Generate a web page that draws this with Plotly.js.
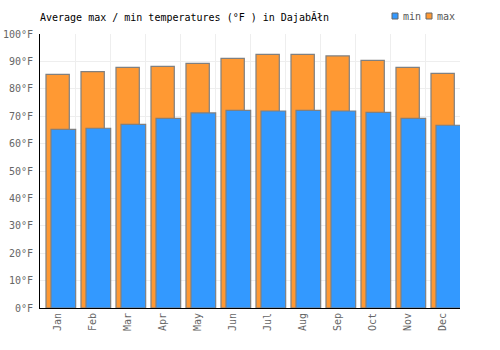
<!DOCTYPE html>
<html>
<head>
<meta charset="utf-8">
<script src="https://cdn.plot.ly/plotly-3.0.1.min.js"></script>
<style>html,body{margin:0;padding:0;background:#fff;}#chart{width:500px;height:350px;}</style>
</head>
<body>
<div id="chart"></div>
<script>
const months = ["Jan","Feb","Mar","Apr","May","Jun","Jul","Aug","Sep","Oct","Nov","Dec"];
const maxTemps = [85.3, 86.3, 87.8, 88.2, 89.3, 91.1, 92.6, 92.6, 92.0, 90.4, 87.8, 85.6];
const minTemps = [65.2, 65.6, 67.0, 69.2, 71.2, 72.1, 71.9, 72.1, 71.9, 71.4, 69.2, 66.7];
const seriesNames = ["min", "max"];
const seriesColors = ["#3399ff", "#ff9933"];
const titleText = "Average max / min temperatures (°F ) in DajabĂłn";

const font = "DejaVu Sans Mono, monospace";
const W = 500, H = 350;

const traces = [
  {
    type: "bar", name: seriesNames[1], x: months, y: maxTemps,
    marker: {color: seriesColors[1], line: {color: "#808080", width: 1.2}},
    width: 0.666, offset: -0.329,
    hoverinfo: "skip", showlegend: false
  },
  {
    type: "bar", name: seriesNames[0], x: months, y: minTemps,
    marker: {color: seriesColors[0], line: {color: "#808080", width: 1.2}},
    width: 0.705, offset: -0.186,
    hoverinfo: "skip", showlegend: false
  }
];

// custom compact legend (square swatch + name), built from series names/colours
const legendX = [392, 426];
const shapes = [], annotations = [];
seriesNames.forEach((n, i) => {
  const x0 = legendX[i];
  shapes.push({type: "rect", xref: "paper", yref: "paper",
    x0: (x0 - 40) / 420, x1: (x0 + 6 - 40) / 420,
    y0: (308 - 19) / 274, y1: (308 - 13) / 274,
    fillcolor: seriesColors[i], line: {color: "#666", width: 1}});
  annotations.push({xref: "paper", yref: "paper", x: (x0 + 8.5 - 40) / 420, y: (308 - 16.5) / 274,
    xanchor: "left", yanchor: "middle", showarrow: false, text: n,
    font: {family: font, size: 10, color: "#555"}});
});

const layout = {
  width: W, height: H,
  margin: {l: 40, r: 40, t: 34, b: 42},
  paper_bgcolor: "#fff", plot_bgcolor: "#fff",
  barmode: "overlay",
  font: {family: font, size: 10, color: "#666"},
  title: {text: titleText, font: {family: font, size: 10, color: "#000"},
          x: 40/W, xanchor: "left", y: 1 - 17/H, yanchor: "middle"},
  showlegend: false,
  shapes: shapes,
  annotations: annotations,
  xaxis: {
    type: "category", range: [-0.5, 11.5], tickson: "boundaries",
    showgrid: true, gridcolor: "#eeeeee", gridwidth: 1,
    showline: true, linecolor: "#000", linewidth: 1,
    ticks: "", tickangle: -90, tickfont: {family: font, size: 10, color: "#666"},
    zeroline: false, fixedrange: true
  },
  yaxis: {
    range: [0, 100], dtick: 10, tick0: 0, ticksuffix: "°F",
    showgrid: true, gridcolor: "#eeeeee", gridwidth: 1,
    showline: true, linecolor: "#000", linewidth: 1,
    ticks: "", ticklabelstandoff: 4, tickfont: {family: font, size: 10, color: "#666"},
    zeroline: false, fixedrange: true
  }
};

Plotly.newPlot("chart", traces, layout, {displayModeBar: false, staticPlot: true});
</script>
</body>
</html>
